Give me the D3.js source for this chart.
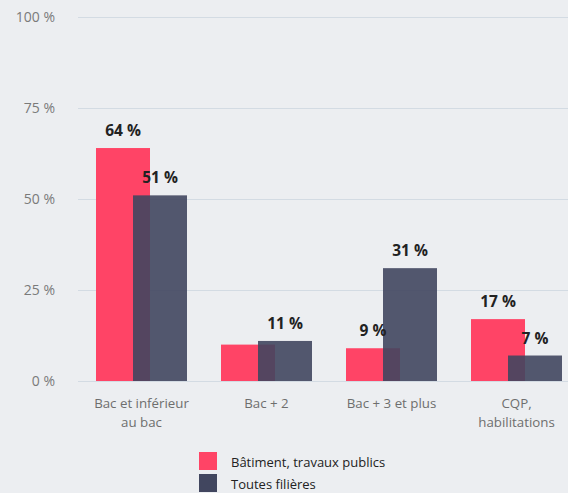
<!DOCTYPE html>
<html>
<head>
<meta charset="utf-8">
<script src="https://cdn.jsdelivr.net/npm/d3@7"></script>
<style>
  body { margin: 0; background: #eceef1; }
  svg { display: block; font-family: "Open Sans", sans-serif; }
</style>
</head>
<body>
<svg id="chart" width="568" height="493"></svg>
<script>
var categories = [["Bac et inférieur", "au bac"], ["Bac + 2"], ["Bac + 3 et plus"], ["CQP,", "habilitations"]];
var seriesNames = ["Bâtiment, travaux publics", "Toutes filières"];
var btpValues = [64, 10, 9, 17];
var allValues = [51, 11, 31, 7];
var btpLabels = ["64 %", null, "9 %", "17 %"];
var allLabels = ["51 %", "11 %", "31 %", "7 %"];
var yTicks = [0, 25, 50, 75, 100];
var colors = ["#ff4466", "#41465f"];

var svg = d3.select('#chart');

var x = d3.scaleBand().domain(d3.range(categories.length)).range([79, 579]).paddingInner(0.27).paddingOuter(0.135);
var y = d3.scaleLinear().domain([0, 100]).range([381, 17]);

var barW = 54, shift = 37;

// grid + y labels
svg.append('g').selectAll('line').data(yTicks).enter().append('line')
    .attr('x1', 78).attr('x2', 568)
    .attr('y1', function(d) { return y(d) + 0.5; })
    .attr('y2', function(d) { return y(d) + 0.5; })
    .attr('stroke', '#d3dbe3').attr('stroke-width', 1);

svg.append('g').selectAll('text').data(yTicks).enter().append('text')
    .attr('x', 55).attr('y', function(d) { return y(d) + 5; })
    .attr('text-anchor', 'end').attr('font-size', 14).attr('fill', '#7a7a7a')
    .text(function(d) { return d + ' %'; });

function groupLeft(i) {
    return x(i) + (x.bandwidth() - (barW + shift)) / 2;
}

// red bars
svg.append('g').selectAll('rect').data(btpValues).enter().append('rect')
    .attr('x', function(d, i) { return groupLeft(i); })
    .attr('y', function(d) { return y(d); })
    .attr('width', barW)
    .attr('height', function(d) { return y(0) - y(d); })
    .attr('fill', colors[0]);

// dark bars (semi transparent over red)
svg.append('g').selectAll('rect').data(allValues).enter().append('rect')
    .attr('x', function(d, i) { return groupLeft(i) + shift; })
    .attr('y', function(d) { return y(d); })
    .attr('width', barW)
    .attr('height', function(d) { return y(0) - y(d); })
    .attr('fill', colors[1]).attr('fill-opacity', 0.9);

// value labels
function addLabels(vals, labels, off) {
    svg.append('g').selectAll('text').data(vals).enter().append('text')
        .attr('x', function(d, i) { return groupLeft(i) + off + barW / 2; })
        .attr('y', function(d) { return y(d) - 12; })
        .attr('text-anchor', 'middle').attr('font-size', 15.5).attr('font-weight', 'bold')
        .attr('fill', '#222')
        .text(function(d, i) { return labels[i]; });
}
addLabels(btpValues, btpLabels, 0);
addLabels(allValues, allLabels, shift);

// x labels
var xl = svg.append('g').selectAll('text').data(categories).enter().append('text')
    .attr('text-anchor', 'middle').attr('font-size', 13.3).attr('fill', '#6e6e6e')
    .attr('transform', function(d, i) { return 'translate(' + (groupLeft(i) + (barW + shift) / 2) + ',408)'; });
xl.selectAll('tspan').data(function(d) { return d; }).enter().append('tspan')
    .attr('x', 0).attr('y', function(d, j) { return j * 18.5; })
    .text(function(d) { return d; });

// legend
var leg = svg.append('g').selectAll('g').data(seriesNames).enter().append('g')
    .attr('transform', function(d, i) { return 'translate(199,' + (452 + i * 22) + ')'; });
leg.append('rect').attr('width', 18).attr('height', 18)
    .attr('fill', function(d, i) { return colors[i]; });
leg.append('text').attr('x', 32).attr('y', 15).attr('font-size', 13).attr('fill', '#222')
    .text(function(d) { return d; });
</script>
</body>
</html>
